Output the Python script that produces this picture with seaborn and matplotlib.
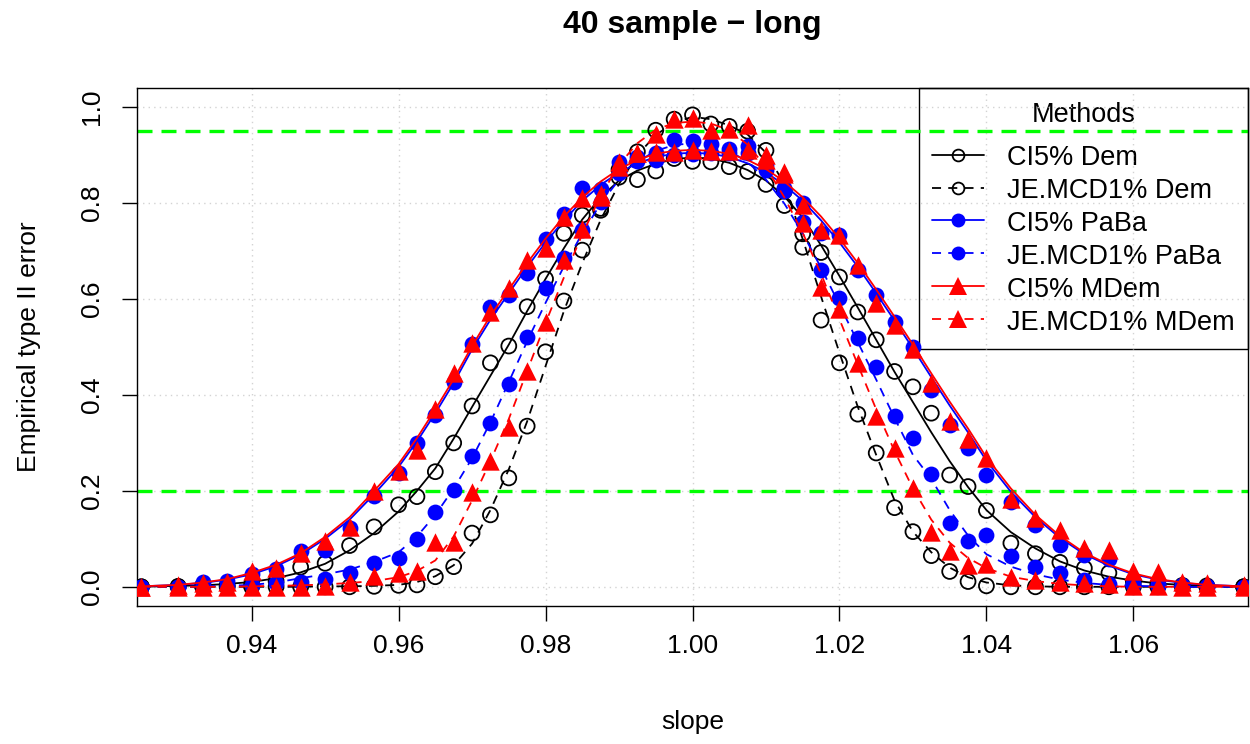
import numpy as np
import pandas as pd
import matplotlib
matplotlib.use("Agg")
import matplotlib.pyplot as plt
from matplotlib.lines import Line2D
import seaborn as sns

# ---------------- data ----------------
slope = [0.925, 0.93, 0.93333, 0.93667, 0.94, 0.94333, 0.94667, 0.95, 0.95333, 0.95667, 0.96,
         0.9625, 0.965, 0.9675, 0.97, 0.9725, 0.975, 0.9775, 0.98, 0.9825, 0.985, 0.9875,
         0.99, 0.9925, 0.995, 0.9975, 1.0, 1.0025, 1.005, 1.0075, 1.01, 1.0125, 1.015,
         1.0175, 1.02, 1.0225, 1.025, 1.0275, 1.03, 1.0325, 1.035, 1.0375,
         1.04, 1.04333, 1.04667, 1.05, 1.05333, 1.05667, 1.06, 1.06333, 1.06667, 1.07, 1.075]

# observed points
ci_dem_pts = [0.000, 0.001, 0.002, 0.003, 0.006, 0.012, 0.041, 0.049, 0.086, 0.125, 0.171,
              0.188, 0.240, 0.300, 0.377, 0.467, 0.502, 0.584, 0.642, 0.737, 0.775, 0.789,
              0.854, 0.849, 0.867, 0.893, 0.887, 0.886, 0.876, 0.866, 0.839, 0.795, 0.736,
              0.697, 0.646, 0.573, 0.515, 0.449, 0.417, 0.362, 0.233, 0.209,
              0.159, 0.091, 0.069, 0.051, 0.039, 0.029, 0.011, 0.005, 0.003, 0.002, 0.000]
je_dem_pts = [0.000, 0.000, 0.000, 0.000, 0.000, 0.000, 0.000, 0.000, 0.000, 0.001, 0.003,
              0.004, 0.021, 0.042, 0.112, 0.150, 0.227, 0.335, 0.490, 0.596, 0.702, 0.785,
              0.870, 0.907, 0.952, 0.975, 0.984, 0.965, 0.960, 0.950, 0.910, 0.825, 0.708,
              0.556, 0.467, 0.360, 0.279, 0.165, 0.115, 0.065, 0.032, 0.011,
              0.002, 0.000, 0.000, 0.000, 0.000, 0.000, 0.000, 0.000, 0.000, 0.000, 0.000]
ci_paba_pts = [0.000, 0.000, 0.011, 0.012, 0.027, 0.037, 0.074, 0.077, 0.123, 0.190, 0.237,
               0.300, 0.358, 0.426, 0.506, 0.584, 0.608, 0.654, 0.726, 0.777, 0.831, 0.829,
               0.886, 0.897, 0.890, 0.900, 0.902, 0.905, 0.905, 0.905, 0.880, 0.831, 0.800,
               0.737, 0.733, 0.660, 0.608, 0.553, 0.500, 0.410, 0.338, 0.289,
               0.233, 0.177, 0.129, 0.088, 0.067, 0.058, 0.008, 0.005, 0.003, 0.002, 0.000]
je_paba_pts = [0.000, 0.000, 0.001, 0.002, 0.003, 0.008, 0.011, 0.016, 0.029, 0.049, 0.060,
               0.100, 0.157, 0.202, 0.273, 0.341, 0.423, 0.521, 0.622, 0.685, 0.744, 0.803,
               0.862, 0.888, 0.905, 0.931, 0.930, 0.924, 0.912, 0.920, 0.870, 0.825, 0.761,
               0.660, 0.602, 0.518, 0.459, 0.357, 0.311, 0.235, 0.134, 0.096,
               0.108, 0.064, 0.042, 0.029, 0.015, 0.005, 0.003, 0.002, 0.001, 0.000, 0.000]
ci_mdem_pts = [0.000, 0.004, 0.008, 0.011, 0.032, 0.039, 0.070, 0.095, 0.125, 0.199, 0.242,
               0.285, 0.370, 0.446, 0.508, 0.574, 0.622, 0.681, 0.706, 0.771, 0.810, 0.820,
               0.886, 0.904, 0.907, 0.907, 0.910, 0.908, 0.908, 0.910, 0.890, 0.865, 0.796,
               0.744, 0.733, 0.670, 0.592, 0.545, 0.495, 0.425, 0.346, 0.308,
               0.268, 0.183, 0.143, 0.119, 0.081, 0.077, 0.032, 0.030, 0.009, 0.008, 0.004]
je_mdem_pts = [0.000, 0.000, 0.000, 0.000, 0.000, 0.000, 0.000, 0.001, 0.011, 0.023, 0.028,
               0.033, 0.094, 0.094, 0.198, 0.263, 0.334, 0.449, 0.553, 0.681, 0.747, 0.813,
               0.875, 0.905, 0.944, 0.976, 0.978, 0.952, 0.955, 0.962, 0.900, 0.860, 0.758,
               0.625, 0.580, 0.466, 0.357, 0.290, 0.206, 0.115, 0.075, 0.046,
               0.047, 0.020, 0.015, 0.010, 0.008, 0.005, 0.002, 0.001, 0.000, 0.000, 0.000]

# smooth curves (at the same slopes)
ci_dem_fit = [0.000, 0.002, 0.003, 0.006, 0.010, 0.018, 0.030, 0.048, 0.076, 0.112, 0.157,
              0.200, 0.247, 0.309, 0.375, 0.440, 0.505, 0.575, 0.642, 0.706, 0.766, 0.812,
              0.847, 0.868, 0.882, 0.892, 0.895, 0.893, 0.884, 0.869, 0.847, 0.814, 0.770,
              0.712, 0.648, 0.582, 0.515, 0.448, 0.385, 0.322, 0.262, 0.208,
              0.160, 0.114, 0.080, 0.053, 0.034, 0.021, 0.013, 0.007, 0.004, 0.002, 0.000]
je_dem_fit = [0.000, 0.000, 0.000, 0.000, 0.000, 0.000, 0.000, 0.001, 0.001, 0.002, 0.004,
              0.010, 0.022, 0.045, 0.090, 0.160, 0.245, 0.345, 0.460, 0.575, 0.675, 0.765,
              0.840, 0.900, 0.942, 0.968, 0.980, 0.975, 0.962, 0.943, 0.905, 0.840, 0.725,
              0.605, 0.488, 0.375, 0.275, 0.180, 0.115, 0.072, 0.040, 0.020,
              0.009, 0.003, 0.001, 0.000, 0.000, 0.000, 0.000, 0.000, 0.000, 0.000, 0.000]
ci_paba_fit = [0.001, 0.004, 0.008, 0.015, 0.026, 0.043, 0.067, 0.100, 0.140, 0.193, 0.250,
               0.303, 0.362, 0.425, 0.495, 0.557, 0.612, 0.667, 0.718, 0.764, 0.805, 0.838,
               0.864, 0.883, 0.896, 0.903, 0.905, 0.903, 0.896, 0.883, 0.864, 0.838, 0.805,
               0.764, 0.718, 0.667, 0.612, 0.555, 0.497, 0.437, 0.378, 0.322,
               0.263, 0.198, 0.145, 0.102, 0.068, 0.044, 0.026, 0.015, 0.008, 0.004, 0.001]
je_paba_fit = [0.000, 0.000, 0.001, 0.002, 0.004, 0.009, 0.018, 0.026, 0.036, 0.052, 0.072,
               0.105, 0.150, 0.205, 0.268, 0.343, 0.427, 0.512, 0.592, 0.668, 0.737, 0.799,
               0.849, 0.886, 0.909, 0.921, 0.925, 0.921, 0.909, 0.886, 0.849, 0.799, 0.737,
               0.665, 0.588, 0.510, 0.432, 0.352, 0.275, 0.225, 0.160, 0.107,
               0.068, 0.042, 0.026, 0.015, 0.008, 0.004, 0.002, 0.001, 0.000, 0.000, 0.000]
ci_mdem_fit = [0.001, 0.004, 0.009, 0.016, 0.029, 0.046, 0.070, 0.104, 0.145, 0.200, 0.256,
               0.310, 0.370, 0.433, 0.502, 0.565, 0.620, 0.675, 0.726, 0.772, 0.812, 0.845,
               0.871, 0.890, 0.903, 0.909, 0.911, 0.909, 0.903, 0.890, 0.871, 0.845, 0.812,
               0.772, 0.726, 0.675, 0.620, 0.563, 0.505, 0.445, 0.386, 0.330,
               0.270, 0.205, 0.150, 0.106, 0.071, 0.046, 0.028, 0.016, 0.009, 0.004, 0.001]
je_mdem_fit = [0.000, 0.000, 0.000, 0.000, 0.001, 0.002, 0.003, 0.005, 0.008, 0.012, 0.020,
               0.033, 0.055, 0.105, 0.180, 0.262, 0.350, 0.450, 0.550, 0.645, 0.735, 0.815,
               0.880, 0.925, 0.953, 0.967, 0.970, 0.966, 0.952, 0.922, 0.875, 0.812, 0.738,
               0.652, 0.558, 0.463, 0.370, 0.283, 0.205, 0.140, 0.092, 0.060,
               0.039, 0.021, 0.012, 0.006, 0.003, 0.001, 0.000, 0.000, 0.000, 0.000, 0.000]

labels = ["CI5% Dem", "JE.MCD1% Dem", "CI5% PaBa", "JE.MCD1% PaBa", "CI5% MDem", "JE.MCD1% MDem"]
ref_levels = [0.95, 0.2]
xticks = [0.94, 0.96, 0.98, 1.00, 1.02, 1.04, 1.06]
xtick_labels = ["0.94", "0.96", "0.98", "1.00", "1.02", "1.04", "1.06"]
yticks = [0.0, 0.2, 0.4, 0.6, 0.8, 1.0]
ytick_labels = ["0.0", "0.2", "0.4", "0.6", "0.8", "1.0"]

# ---------------- styles ----------------
sns.set_theme(style="white")
plt.rcParams["font.family"] = ["Liberation Sans", "DejaVu Sans"]
for key in ["text.color", "axes.labelcolor", "xtick.color", "ytick.color", "axes.edgecolor"]:
    plt.rcParams[key] = "black"

pts = [ci_dem_pts, je_dem_pts, ci_paba_pts, je_paba_pts, ci_mdem_pts, je_mdem_pts]
fits = [ci_dem_fit, je_dem_fit, ci_paba_fit, je_paba_fit, ci_mdem_fit, je_mdem_fit]
colors = ["black", "black", "#0000FF", "#0000FF", "#FF0000", "#FF0000"]
dashed = [False, True, False, True, False, True]
mkind = ["open", "open", "dot", "dot", "tri", "tri"]

FS = 19
LFS = 19.5
fig = plt.figure(figsize=(12.5, 7.44), dpi=100)
ax = fig.add_axes([0.1096, 0.1855, 0.8888, 0.6962])
ax.set_xlim(0.9244, 1.0756)
ax.set_ylim(-0.04, 1.04)

dash_pat = (0, (5, 4))
for i in range(6):
    df = pd.DataFrame({"slope": slope, "fit": fits[i], "pts": pts[i]})
    sns.lineplot(data=df, x="slope", y="fit", ax=ax, color=colors[i], lw=1.3,
                 linestyle=dash_pat if dashed[i] else "-", sort=False,
                 estimator=None, zorder=3 + i * 0.1)
    if mkind[i] == "open":
        sns.scatterplot(data=df, x="slope", y="pts", ax=ax, marker="o", s=115,
                        facecolors="none", edgecolor=colors[i], linewidth=1.3,
                        zorder=3.05 + i * 0.1)
    elif mkind[i] == "dot":
        sns.scatterplot(data=df, x="slope", y="pts", ax=ax, marker="o", s=130,
                        color=colors[i], linewidth=0, zorder=3.05 + i * 0.1)
    else:
        sns.scatterplot(data=df, x="slope", y="pts", ax=ax, marker="^", s=175,
                        color=colors[i], linewidth=0, zorder=3.05 + i * 0.1)

# legend (drawn below grid / reference lines, as in the original)
handles = []
for i in range(6):
    ls = dash_pat if dashed[i] else "-"
    if mkind[i] == "open":
        h = Line2D([], [], color=colors[i], lw=1.3, linestyle=ls,
                   marker="o", markersize=8.5, markerfacecolor="none",
                   markeredgecolor=colors[i], markeredgewidth=1.3)
    elif mkind[i] == "dot":
        h = Line2D([], [], color=colors[i], lw=1.3, linestyle=ls,
                   marker="o", markersize=10, markerfacecolor=colors[i], markeredgewidth=0)
    else:
        h = Line2D([], [], color=colors[i], lw=1.3, linestyle=ls,
                   marker="^", markersize=13, markerfacecolor=colors[i], markeredgewidth=0)
    handles.append(h)
leg = ax.legend(handles, labels, title="Methods", loc="upper right", borderaxespad=0,
                fontsize=LFS, title_fontsize=LFS, frameon=True, fancybox=False,
                framealpha=1, edgecolor="black", handlelength=1.9, handletextpad=0.85,
                handleheight=1.0, labelspacing=0.2, borderpad=0.5)
leg.get_frame().set_linewidth(1.0)
leg.set_zorder(1.0)
# extra gap between the legend title and its entries
leg._legend_box.sep = 0.2 * LFS + 8

# grid (dotted, light grey) drawn over the legend like R's grid()
for xv in xticks:
    ax.axvline(xv, color="#D3D3D3", lw=1.0, linestyle=(0, (1, 3)), zorder=1.5)
for yv in yticks:
    ax.axhline(yv, color="#D3D3D3", lw=1.0, linestyle=(0, (1, 3)), zorder=1.5)

# reference lines
for lvl in ref_levels:
    ax.axhline(lvl, color="#00FF00", lw=2.4, linestyle=(0, (4.5, 2.7)), zorder=2)

ax.set_xticks(xticks)
ax.set_xticklabels(xtick_labels)
ax.set_yticks(yticks)
ax.set_yticklabels(ytick_labels, rotation=90, va="center")
ax.tick_params(axis="both", which="major", direction="out", length=11, width=1,
               color="black", labelcolor="black", labelsize=FS, bottom=True, left=True)
ax.tick_params(axis="x", pad=9)
ax.tick_params(axis="y", pad=13)
for sp in ax.spines.values():
    sp.set_visible(True)
    sp.set_color("black")
    sp.set_linewidth(1.0)

ax.set_xlabel("slope", fontsize=FS, color="black")
ax.set_ylabel("Empirical type II error", fontsize=FS, color="black")
ax.xaxis.set_label_coords(0.5, -0.2)
ax.yaxis.set_label_coords(-0.086, 0.5)
fig.text(0.5535, 0.966, "40 sample \u2212 long", ha="center", va="center",
         fontsize=23, fontweight="bold", color="black")

fig.savefig("out.png", dpi=100)
